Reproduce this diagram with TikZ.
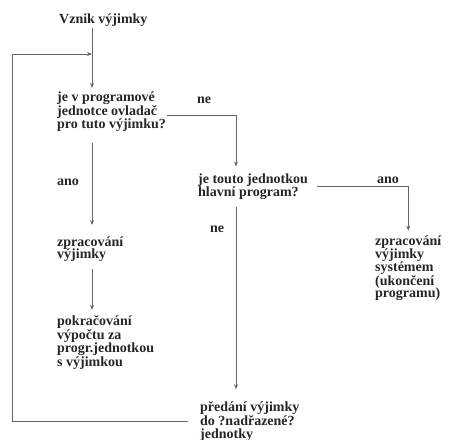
\documentclass[tikz,border=0pt]{standalone}
\usepackage{fontspec}
\setmainfont{Liberation Serif}
\usetikzlibrary{arrows.meta,positioning}

\begin{document}
\begin{tikzpicture}[
    x=1pt, y=-1pt,
    txt/.style={anchor=base west, inner sep=0pt, align=left, font=\fontsize{14}{12.8}\selectfont\bfseries, text=black!85},
    arr/.style={-{Stealth[length=5pt,width=4pt]}, draw=black!60, line width=0.7pt}
]
\useasboundingbox (0,0) rectangle (457,439);

% text blocks (placed at the baseline of their last line)
\node[txt] (vznik) at (59,23.5) {Vznik výjimky};
\node[txt] (q1) at (57,128.6) {je v programové\\jednotce ovladač\\pro tuto výjimku?};
\node[txt] (ne1) at (197,103) {ne};
\node[txt] (ano1) at (57,185) {ano};
\node[txt] (q2) at (198,196.3) {je touto jednotkou\\hlavní program?};
\node[txt] (ano2) at (377,183.5) {ano};
\node[txt] (ne2) at (210,232) {ne};
\node[txt] (handle) at (57,258.8) {zpracování\\výjimky};
\node[txt] (sys) at (375,297.9) {zpracování\\výjimky\\systémem\\(ukončení\\programu)};
\node[txt] (cont) at (57,366.4) {pokračování\\výpočtu za\\progr.jednotkou\\s výjimkou};
\node[txt] (pass) at (200,438) {předání výjimky\\do ?nadřazené?\\jednotky};

% guide lines
\coordinate (spine) at (92,0);
\coordinate (drop) at (236,0);
\coordinate (loopL) at (12,54);

% connectors
\draw[arr, shorten <=1pt, shorten >=4pt] (vznik.south -| spine) -- (q1.north -| spine);
\draw[arr, shorten <=11pt, shorten >=11pt] (q1.south -| spine) -- (handle.north -| spine);
\draw[arr, shorten <=7pt, shorten >=6pt] (handle.south -| spine) -- (cont.north -| spine);
\draw[arr, shorten <=1pt, shorten >=7pt] ([yshift=-3.5pt]q1.east) -| (q2.north -| drop);
\draw[arr, shorten <=9pt, shorten >=5pt] (q2.east) -| (sys.north);
\draw[arr, shorten <=7pt, shorten >=12pt] (q2.south -| drop) -- (pass.north -| drop);
\draw[arr, shorten <=12pt] (pass.west) -| (loopL) -- (loopL -| spine);
\end{tikzpicture}
\end{document}
